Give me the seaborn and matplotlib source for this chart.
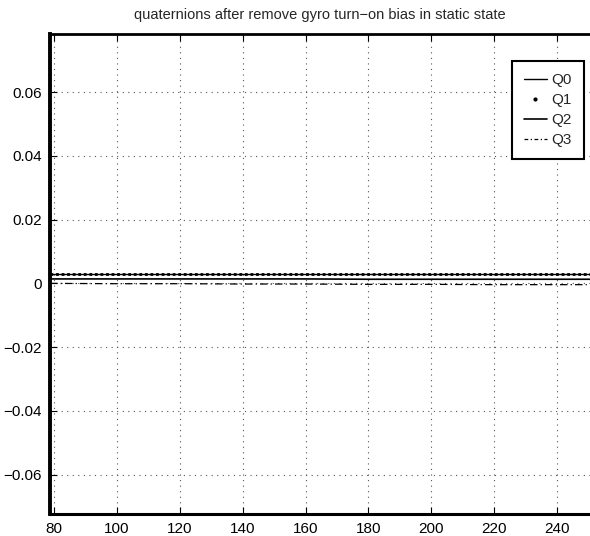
import matplotlib
matplotlib.use("Agg")
import matplotlib.pyplot as plt
from matplotlib.lines import Line2D
import seaborn as sns
import pandas as pd

# Quaternion components over time (s), bias-corrected, static state
time = [78.7, 100, 120, 140, 160, 180, 200, 220, 250.5]
q0 = [0.0030, 0.0030, 0.0030, 0.0030, 0.0030, 0.0030, 0.0030, 0.0030, 0.0030]
q1 = [0.0031, 0.0031, 0.0031, 0.0031, 0.0031, 0.0031, 0.0031, 0.0031, 0.0031]
q2 = [0.0014, 0.0014, 0.0014, 0.0014, 0.0014, 0.0013, 0.0013, 0.0013, 0.0013]
q3 = [0.0000, -0.0001, -0.0001, -0.0002, -0.0002, -0.0003, -0.0003, -0.0004, -0.0004]

labels = ["Q0", "Q1", "Q2", "Q3"]
xticks = [80, 100, 120, 140, 160, 180, 200, 220, 240]
yticks = [-0.06, -0.04, -0.02, 0, 0.02, 0.04, 0.06]
yticklabels = ["\u22120.06", "\u22120.04", "\u22120.02", "0", "0.02", "0.04", "0.06"]

sns.set_theme(style="white")
plt.rcParams["font.family"] = ["Liberation Sans", "DejaVu Sans"]

fig = plt.figure(figsize=(5.9, 5.36), dpi=100)
ax = fig.add_axes([50 / 590, 22 / 536, 540 / 590, 479.7 / 536])

df = pd.DataFrame({"t": time, "Q0": q0, "Q1": q1, "Q2": q2, "Q3": q3})

sns.lineplot(data=df, x="t", y="Q0", ax=ax, color="black", linewidth=1.0)
sns.lineplot(data=df, x="t", y="Q1", ax=ax, color="black", linewidth=2.0,
             linestyle=(0, (1, 1)))
sns.lineplot(data=df, x="t", y="Q2", ax=ax, color="black", linewidth=1.2)
sns.lineplot(data=df, x="t", y="Q3", ax=ax, color="black", linewidth=0.9,
             linestyle=(0, (6, 2.5, 1, 2.5)))

ax.set_xlim(78.7, 250.5)
ax.set_ylim(-0.0724, 0.0782)
ax.set_xticks(xticks)
ax.set_xticklabels([str(v) for v in xticks])
ax.set_yticks(yticks)
ax.set_yticklabels(yticklabels)
ax.set_xlabel("")
ax.set_ylabel("")
ax.set_title("quaternions after remove gyro turn\u2212on bias in static state",
             fontsize=10.5, pad=11)

ax.grid(True, color="#555555", linestyle=(0, (1, 4)), linewidth=0.8)
ax.tick_params(direction="in", length=5, width=0.8, colors="black",
               labelsize=11, pad=6, top=True, bottom=True, left=True)

ax.spines["left"].set_linewidth(2.8)
ax.spines["bottom"].set_linewidth(2.2)
ax.spines["top"].set_linewidth(2.0)
ax.spines["top"].set_linestyle((0, (2, 1)))
ax.spines["right"].set_visible(False)
for s in ax.spines.values():
    s.set_color("black")

handles = [
    Line2D([], [], color="black", linewidth=1.0),
    Line2D([], [], color="black", linestyle="none", marker=".", markersize=4),
    Line2D([], [], color="black", linewidth=1.2),
    Line2D([], [], color="black", linewidth=0.9, linestyle=(0, (3, 2, 1, 2))),
]
leg = ax.legend(handles, labels, loc="upper right", bbox_to_anchor=(0.989, 0.945),
                borderaxespad=0, fancybox=False, frameon=True, fontsize=11,
                handlelength=1.5, handletextpad=0.3, labelspacing=0.4,
                borderpad=0.8)
leg.get_frame().set_edgecolor("black")
leg.get_frame().set_linewidth(1.5)
leg.get_frame().set_facecolor("white")
leg.get_frame().set_alpha(1)

fig.savefig("out.png", dpi=100)
